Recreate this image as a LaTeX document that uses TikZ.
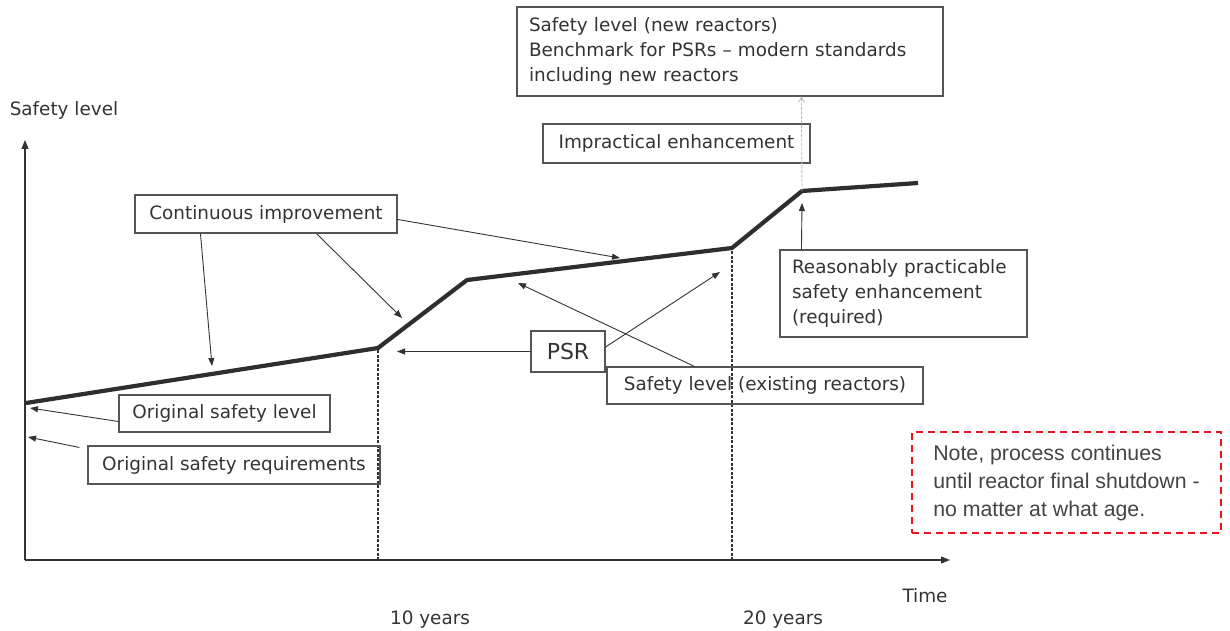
\documentclass[tikz,border=0pt]{standalone}
\usepackage{fontspec}
\setmainfont{DejaVu Sans}
\newfontfamily\notefont{Liberation Sans}
\usetikzlibrary{arrows.meta}
\definecolor{ink}{HTML}{333333}
\definecolor{boxline}{HTML}{555555}
\definecolor{notered}{HTML}{E8141C}
\definecolor{notetext}{HTML}{444444}
\definecolor{faint}{HTML}{BBBBBB}
\begin{document}
\begin{tikzpicture}[x=1pt,y=-1pt,
  lbl/.style={text=ink,font=\fontsize{18.4}{25}\selectfont,inner sep=0pt},
  box/.style={draw=boxline,line width=1.1pt,text=ink,font=\fontsize{18.4}{25}\selectfont,inner sep=0pt},
  mbox/.style={box,align=left,inner xsep=12pt,inner ysep=0pt},
  arr/.style={draw=ink,line width=0.9pt,-{Triangle[length=8pt,width=6pt]}},
  axisline/.style={draw=ink,line width=1.2pt,-{Triangle[length=9pt,width=7pt]}},
  curveline/.style={draw=ink!90!black,line width=4.2pt,line join=round},
  vdash/.style={draw=ink,line width=1.1pt,dash pattern=on 3pt off 1.5pt},
  notebox/.style={draw=notered,line width=1.6pt,dash pattern=on 7pt off 5pt,text=notetext,
    font=\notefont\fontsize{21.3}{28}\selectfont,align=left,inner sep=0pt}
]
\useasboundingbox (0,0) rectangle (1230,631);

% axes
\coordinate (O) at (25,560);
\coordinate (ytip) at (25,140);
\coordinate (xtip) at (950,560);
\draw[axisline] (O) -- (ytip);
\draw[axisline] (O) -- (xtip);

% axis labels
\node[lbl] (ylab) at (64,110) {Safety level};
\node[lbl] (tlab) at (925,596) {Time};
\node[lbl] (y10) at (430,620) {10 years};
\node[lbl] (y20) at (783,620) {20 years};

% curve
\coordinate (k0) at (26,403);
\coordinate (k1) at (378,348);
\coordinate (k2) at (467,280);
\coordinate (k3) at (732,248);
\coordinate (k4) at (802,191);
\coordinate (k5) at (918,183);

% dashed verticals
\coordinate (d1) at (378,560);
\coordinate (d2) at (732,560);
\draw[vdash] (d1) -- (k1);
\draw[vdash] (d2) -- (k3);

\draw[curveline] (k0) -- (k1) -- (k2) -- (k3) -- (k4) -- (k5);

% boxes
\node[mbox,minimum height=89pt,text width=402pt] (top) at (730,51.5)
  {Safety level (new reactors)\\Benchmark for PSRs -- modern standards\\including new reactors};
\node[box,minimum width=267pt,minimum height=39pt] (impr) at (676.5,143.5) {Impractical enhancement};
\node[box,minimum width=262pt,minimum height=38pt] (cont) at (266,214) {Continuous improvement};
\node[mbox,minimum height=87pt,text width=223pt] (reas) at (903.5,293.5)
  {Reasonably practicable\\safety enhancement\\(required)};
\node[box,minimum width=74pt,minimum height=41pt,font=\fontsize{22}{26}\selectfont] (psr) at (568,351.5) {PSR};
\node[box,minimum width=316pt,minimum height=37pt] (exist) at (765,385.5) {Safety level (existing reactors)};
\node[box,minimum width=211pt,minimum height=37pt] (osl) at (224.5,413.5) {Original safety level};
\node[box,minimum width=292pt,minimum height=38pt] (osr) at (234,465) {Original safety requirements};
\node[notebox,minimum width=309pt,minimum height=101pt] (note) at (1066.5,482.5)
  {Note, process continues\\until reactor final shutdown -\\no matter at what age.};

% arrow targets
\coordinate (c1) at (212,366);
\coordinate (c2) at (402,318);
\coordinate (c3) at (620,258);
\coordinate (p1) at (397,351.5);
\coordinate (p2) at (720,272);
\coordinate (p3) at (518,283);
\coordinate (r1) at (802,203);
\coordinate (o1) at (30,408);
\coordinate (o2) at (28,437);

% connectors
\draw[arr] ([xshift=66pt]cont.south west) -- (c1);
\draw[arr] ([xshift=182pt]cont.south west) -- (c2);
\draw[arr] ([yshift=-25pt]cont.north east) -- (c3);
\draw[arr] (psr.west) -- (p1);
\draw[arr] ([yshift=4.5pt]psr.east) -- (p2);
\draw[arr] ([xshift=88pt]exist.north west) -- (p3);
\draw[arr] ([xshift=22pt]reas.north west) -- (r1);
\draw[draw=faint,line width=0.9pt,dash pattern=on 3pt off 1.5pt,-{Straight Barb[length=5pt,width=6pt]}] (k4) -- ([xshift=285pt]top.south west);
\draw[arr] ([yshift=-8pt]osl.west) -- (o1);
\draw[arr] ([xshift=-8pt,yshift=-2pt]osr.north west) -- (o2);
\end{tikzpicture}
\end{document}
